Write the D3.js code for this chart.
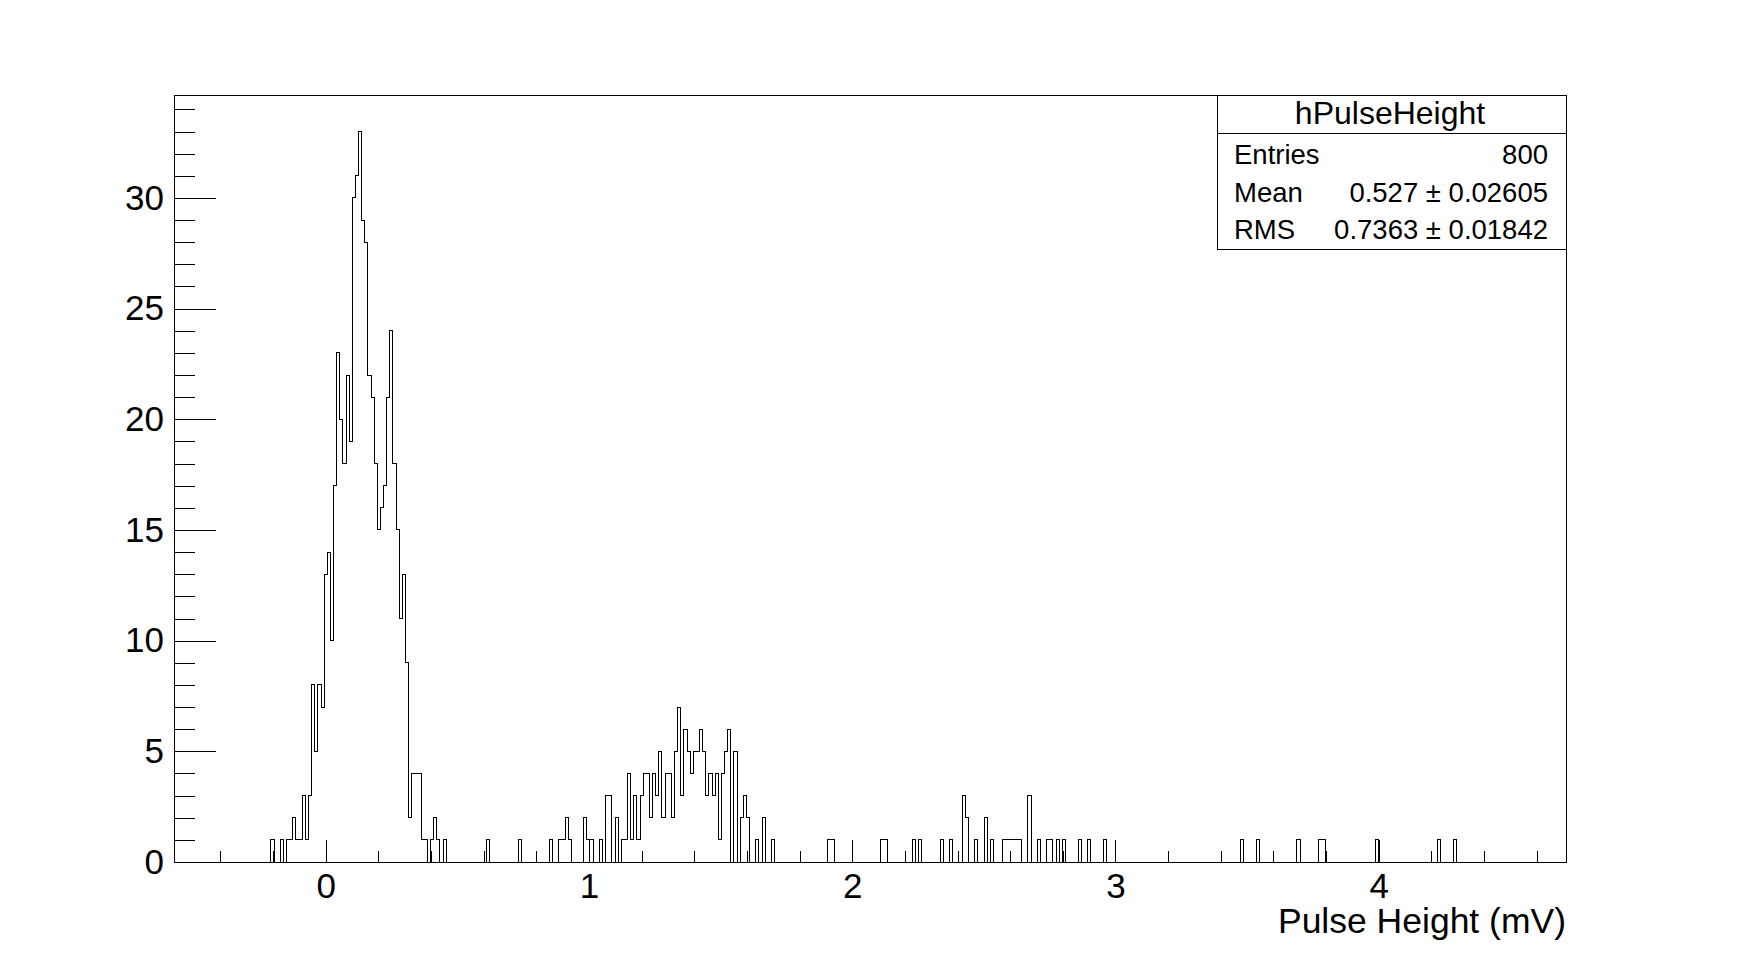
<!DOCTYPE html>
<html>
<head>
<meta charset="utf-8">
<script src="https://cdn.jsdelivr.net/npm/d3@7"></script>
<style>
  html, body { margin: 0; padding: 0; background: #fff; }
  svg { display: block; }
  text { font-family: "Liberation Sans", Arial, sans-serif; fill: #000; }
</style>
</head>
<body>
<script>
// ---------------- data ----------------
const histName = "hPulseHeight";
const xTitle = "Pulse Height (mV)";
const histMin = -0.5763;     // axis / histogram range (mV)
const histMax = 4.7115;
const nBins = 445;
// non-empty bins: bin index (0-based) and entries
const binIndex = [
  31, 34, 36, 37, 38, 39, 40, 41, 42, 43, 44, 45, 46, 47, 48, 49, 50, 51, 52, 53,
  54, 55, 56, 57, 58, 59, 60, 61, 62, 63, 64, 65, 66, 67, 68, 69, 70, 71, 72, 73,
  74, 75, 76, 77, 78, 79, 80, 82, 83, 84, 86, 100, 110, 120,
  123, 124, 125, 126, 131, 132, 133, 136, 138, 139, 141, 143, 144, 145, 146, 147,
  148, 149, 150, 151, 152, 153, 154, 155, 156, 157, 158, 159, 160, 161, 162, 163,
  164, 165, 166, 167, 168, 169, 170, 171, 172, 173, 174, 175, 176, 177, 179, 181,
  182, 183, 186, 188, 191,
  209, 210, 226, 227, 236, 238, 245, 248, 252, 253, 256, 259, 261, 265, 266, 267,
  268, 269, 270, 273, 276, 279, 280, 282, 284, 289, 292, 297, 341, 346, 359, 366,
  367, 384, 404, 409
];
const binCount = [
  1, 1, 1, 1, 2, 1, 1, 3, 1, 3, 8, 5, 8, 7, 13, 14, 10, 17, 23, 20,
  18, 22, 19, 30, 31, 33, 29, 28, 22, 21, 18, 15, 16, 17, 21, 24, 18, 15, 11, 13,
  9, 2, 4, 4, 4, 1, 1, 1, 2, 1, 1, 1, 1, 1,
  1, 1, 2, 1, 2, 1, 1, 1, 3, 3, 2, 1, 1, 4, 1, 3,
  1, 3, 4, 4, 2, 4, 3, 5, 2, 4, 4, 2, 5, 7, 3, 6,
  5, 4, 5, 5, 6, 5, 3, 4, 3, 4, 1, 4, 5, 6, 5, 2,
  3, 2, 1, 2, 1,
  1, 1, 1, 1, 1, 1, 1, 1, 3, 2, 1, 2, 1, 1, 1, 1,
  1, 1, 1, 3, 1, 1, 1, 1, 1, 1, 1, 1, 1, 1, 1, 1,
  1, 1, 1, 1
];
const yMax = 34.65;
const xMajorTicks = [0, 1, 2, 3, 4];
const xMinorTicks = [-0.4, -0.2, 0.2, 0.4, 0.6, 0.8, 1.2, 1.4, 1.6, 1.8, 2.2, 2.4, 2.6, 2.8,
                     3.2, 3.4, 3.6, 3.8, 4.2, 4.4, 4.6];
const yMajorTicks = [0, 5, 10, 15, 20, 25, 30];
const yMinorTicks = [1,2,3,4,6,7,8,9,11,12,13,14,16,17,18,19,21,22,23,24,26,27,28,29,31,32,33,34];
const statLabels = ["Entries", "Mean", "RMS"];
const statValues = ["800", "0.527 \u00B1 0.02605", "0.7363 \u00B1 0.01842"];

// ---------------- layout ----------------
const W = 1741, H = 958;
const frame = { left: 174, right: 1566, top: 95, bottom: 862 };

const svg = d3.select("body").append("svg").attr("width", W).attr("height", H);
svg.append("rect").attr("width", W).attr("height", H).attr("fill", "#fff");

const x = d3.scaleLinear().domain([histMin, histMax]).range([frame.left, frame.right]);
const y = d3.scaleLinear().domain([0, yMax]).range([frame.bottom, frame.top]);

// ---------------- axes ----------------
const xMajLen = 22.5, xMinLen = 11.5, yMajLen = 42, yMinLen = 21;

const gx = svg.append("g").attr("transform", `translate(0,${frame.bottom})`)
  .call(d3.axisBottom(x).tickValues(xMajorTicks).tickSize(-xMajLen).tickPadding(11)
        .tickFormat(d3.format("d")));
gx.append("g").call(d3.axisBottom(x).tickValues(xMinorTicks).tickSize(-xMinLen).tickFormat(""));

const gy = svg.append("g").attr("transform", `translate(${frame.left},0)`)
  .call(d3.axisLeft(y).tickValues(yMajorTicks).tickSize(-yMajLen).tickPadding(10)
        .tickFormat(d3.format("d")));
gy.append("g").call(d3.axisLeft(y).tickValues(yMinorTicks).tickSize(-yMinLen).tickFormat(""));

svg.selectAll(".domain").remove();
svg.selectAll(".tick line").attr("stroke", "#000").attr("stroke-width", 1)
   .attr("shape-rendering", "crispEdges");
svg.selectAll(".tick text").attr("font-size", 35).attr("fill", "#000")
   .attr("font-family", "Liberation Sans, Arial, sans-serif");

// ---------------- histogram ----------------
const counts = new Array(nBins).fill(0);
binIndex.forEach((b, i) => { counts[b] = binCount[i]; });
const bw = (histMax - histMin) / nBins;
const pts = [[histMin, 0]];
counts.forEach((c, i) => {
  pts.push([histMin + i * bw, c]);
  pts.push([histMin + (i + 1) * bw, c]);
});
pts.push([histMax, 0]);
const line = d3.line().x(d => x(d[0])).y(d => y(d[1]));
svg.append("path").attr("d", line(pts)).attr("fill", "none")
  .attr("stroke", "#000").attr("stroke-width", 1).attr("shape-rendering", "crispEdges");

// frame
svg.append("rect")
  .attr("x", frame.left).attr("y", frame.top)
  .attr("width", frame.right - frame.left).attr("height", frame.bottom - frame.top)
  .attr("fill", "none").attr("stroke", "#000").attr("stroke-width", 1)
  .attr("shape-rendering", "crispEdges");

// x title
svg.append("text").attr("x", frame.right).attr("y", 933)
  .attr("text-anchor", "end").attr("font-size", 35.5).text(xTitle);

// ---------------- stats box ----------------
const box = { x0: 1217, x1: 1566, y0: 95, ySep: 133, y1: 249 };
const rowBase = [164, 201.5, 239];
const sb = svg.append("g");
sb.append("rect").attr("x", box.x0).attr("y", box.y0)
  .attr("width", box.x1 - box.x0).attr("height", box.y1 - box.y0)
  .attr("fill", "#fff").attr("stroke", "#000").attr("stroke-width", 1)
  .attr("shape-rendering", "crispEdges");
sb.append("line").attr("x1", box.x0).attr("x2", box.x1).attr("y1", box.ySep).attr("y2", box.ySep)
  .attr("stroke", "#000").attr("stroke-width", 1).attr("shape-rendering", "crispEdges");
sb.append("text").attr("x", 1390).attr("y", 124)
  .attr("text-anchor", "middle").attr("font-size", 32).text(histName);
statLabels.forEach((lab, i) => {
  sb.append("text").attr("x", 1234).attr("y", rowBase[i]).attr("font-size", 27.5).text(lab);
  sb.append("text").attr("x", box.x1 - 18).attr("y", rowBase[i]).attr("text-anchor", "end")
    .attr("font-size", 27.5).text(statValues[i]);
});
</script>
</body>
</html>
